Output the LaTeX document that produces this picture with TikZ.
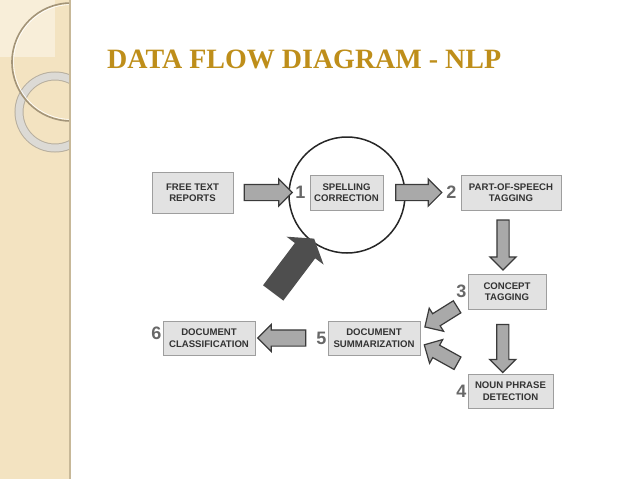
\documentclass[tikz,border=0pt]{standalone}
\usepackage{fontspec}
\setmainfont{Liberation Serif}
\setsansfont{Liberation Sans}
\usetikzlibrary{calc,positioning,shapes.arrows}

\definecolor{panel}{HTML}{F3E3C1}
\definecolor{panellight}{HTML}{F8EED9}
\definecolor{panelshade}{HTML}{C7B898}
\definecolor{arcbrown}{HTML}{A39478}
\definecolor{ringgray}{HTML}{DCDAD5}
\definecolor{ringline}{HTML}{B7AF9F}
\definecolor{titlegold}{HTML}{BE8E1A}
\definecolor{boxfill}{HTML}{E2E2E2}
\definecolor{boxline}{HTML}{9E9E9E}
\definecolor{boxtext}{HTML}{333333}
\definecolor{numgray}{HTML}{686868}
\definecolor{arrowfill}{HTML}{A9A9A9}
\definecolor{arrowline}{HTML}{3A3A3A}

\tikzset{
  stage/.style={draw=boxline, fill=boxfill, line width=1pt, inner sep=0pt, align=center,
    text=boxtext, font=\sffamily\bfseries\fontsize{9.6}{11.5}\selectfont},
  num/.style={inner sep=0pt, text=numgray, font=\sffamily\bfseries\fontsize{18}{18}\selectfont},
  flow/.style={single arrow, draw=arrowline, fill=arrowfill, line width=1.2pt, inner xsep=0pt,
    inner ysep=7.5pt, single arrow head extend=5.5pt, minimum height=48pt},
  flowdown/.style={flow, rotate=-90, inner ysep=5.5pt, single arrow head extend=7pt},
  flowslant/.style={flow, inner ysep=6.5pt, single arrow head extend=6.5pt, minimum height=38pt},
}

\begin{document}
\begin{tikzpicture}[x=1pt,y=-1pt]
  \useasboundingbox (0,0) rectangle (638,479);

  % side panel
  \fill[panel] (0,0) rectangle (70,479);
  \fill[panellight] (0,0) rectangle (55,57);
  \begin{scope}
    \clip (0,0) rectangle (70,479);
    \draw[ringline, line width=9pt] (55,112) circle (36pt);
    \draw[ringgray, line width=7pt] (55,112) circle (36pt);
    \draw[arcbrown, line width=1.6pt] (71,62) circle (59pt);
    \draw[white, line width=0.6pt] (71,62) circle (57.4pt);
  \end{scope}
  \draw[panelshade, line width=2pt] (70,0) -- (70,479);

  \node[anchor=base west, inner sep=0pt, text=titlegold, font=\bfseries\fontsize{28}{28}\selectfont]
    (title) at (107,68) {DATA FLOW DIAGRAM - NLP};

  % stages
  \node[stage, minimum width=81pt, minimum height=41pt] (free) at (192.5,192.5) {FREE TEXT\\REPORTS};
  \node[stage, minimum width=73pt, minimum height=35pt] (spell) at (346.5,192.5) {SPELLING\\CORRECTION};
  \node[stage, minimum width=100pt, minimum height=35pt] (pos) at (511,192.5) {PART-OF-SPEECH\\TAGGING};
  \node[stage, minimum width=78pt, minimum height=35pt] (concept) at (507,291.5) {CONCEPT\\TAGGING};
  \node[stage, minimum width=85pt, minimum height=34pt] (noun) at (510.5,391) {NOUN PHRASE\\DETECTION};
  \node[stage, minimum width=92pt, minimum height=34pt] (summ) at (374,338) {DOCUMENT\\SUMMARIZATION};
  \node[stage, minimum width=92pt, minimum height=34pt] (class) at (209,338) {DOCUMENT\\CLASSIFICATION};

  % step numbers
  \node[num, left=4pt of spell] (n1) {1};
  \node[num, left=4pt of pos] (n2) {2};
  \node[num, left=1pt of concept] (n3) {3};
  \node[num, left=1pt of noun] (n4) {4};
  \node[num, left=1pt of summ] (n5) {5};
  \node[num, left=1pt of class, yshift=5pt] (n6) {6};

  \node[circle, draw=black!85, line width=1.5pt, minimum size=116pt] (lens) at (347,195) {};

  % flow arrows
  \node[flow] (a1) at ($(free.east)!0.5!(n1.west)$) {};
  \node[flow, minimum height=46pt] (a2) at ($(spell.east)!0.5!(n2.west)$) {};
  \node[flowdown, minimum height=50pt] (a3) at ($(pos.south)!0.5!(concept.north)+(-6,0)$) {};
  \node[flowdown] (a4) at ($(concept.south)!0.5!(noun.north)+(-6,4)$) {};
  \node[flowslant, rotate=212] (a5) at ($(concept.south west)!0.5!(summ.north east)$) {};
  \node[flowslant, rotate=151] (a6) at ($(noun.north west)!0.5!(summ.east)$) {};
  \node[flow, rotate=180] (a7) at ($(class.east)!0.5!(n5.west)$) {};

  % pointer to the lens
  \coordinate (hit) at (lens.233);
  \node[single arrow, fill=arrowline!90, inner xsep=0pt, inner ysep=12.5pt, rotate=53,
    minimum height=68pt, single arrow head extend=10.5pt, single arrow tip angle=114]
    (pointer) at ($(hit)!-34pt!(lens.center)$) {};
\end{tikzpicture}
\end{document}
